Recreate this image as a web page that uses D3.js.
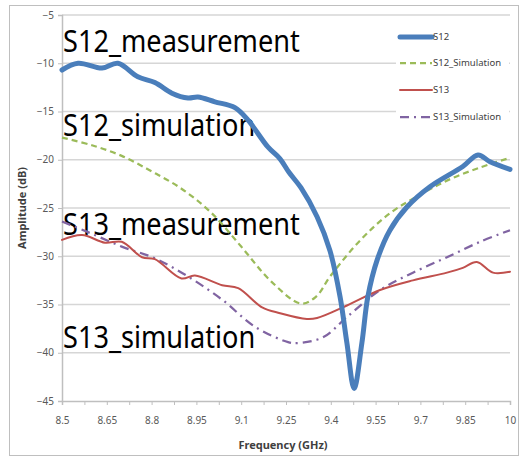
<!DOCTYPE html>
<html>
<head>
<meta charset="utf-8">
<script src="https://cdn.jsdelivr.net/npm/d3@7"></script>
<style>
  body { margin: 0; background: #fff; }
  svg { display: block; font-family: "Noto Sans", sans-serif; }
</style>
</head>
<body>
<script>
"use strict";

// data (GHz, dB)
var s12Freq = [8.5, 8.554, 8.634, 8.687, 8.754, 8.811, 8.868, 8.922, 8.955, 9.012, 9.079, 9.123, 9.19, 9.23, 9.26, 9.30, 9.354, 9.397, 9.431, 9.454, 9.478, 9.504, 9.524, 9.555, 9.598, 9.655, 9.732, 9.842, 9.893, 9.933, 10];
var s12Meas = [-10.7, -10.0, -10.5, -10.0, -11.4, -12.0, -13.1, -13.6, -13.5, -14.0, -14.6, -15.9, -18.7, -19.9, -21.3, -22.9, -25.9, -29.4, -34.2, -39.0, -43.7, -39.0, -34.2, -30.4, -27.3, -24.9, -22.8, -20.7, -19.5, -20.2, -21.0];

var s12SimFreq = [8.5, 8.6, 8.7, 8.8, 8.9, 9.0, 9.1, 9.2, 9.3, 9.35, 9.4, 9.5, 9.6, 9.7, 9.8, 9.9, 10];
var s12Sim = [-17.7, -18.5, -19.6, -21.2, -23.0, -25.5, -29.0, -32.6, -34.9, -34.2, -32.0, -28.3, -25.5, -23.6, -22.0, -20.8, -19.8];

var s13Freq = [8.5, 8.567, 8.644, 8.70, 8.768, 8.811, 8.90, 8.945, 9.036, 9.09, 9.17, 9.23, 9.32, 9.354, 9.454, 9.565, 9.675, 9.789, 9.842, 9.889, 9.943, 10];
var s13Meas = [-28.3, -27.8, -28.6, -28.5, -30.1, -30.3, -32.3, -32.0, -33.0, -33.3, -35.3, -35.9, -36.5, -36.4, -35.1, -33.5, -32.5, -31.7, -31.2, -30.6, -31.7, -31.6];

var s13SimFreq = [8.5, 8.587, 8.70, 8.81, 8.922, 9.036, 9.146, 9.257, 9.287, 9.374, 9.454, 9.565, 9.675, 9.789, 9.9, 10];
var s13Sim = [-26.4, -27.5, -29.0, -30.2, -32.1, -34.5, -37.3, -38.9, -39.0, -38.4, -36.3, -33.5, -31.7, -30.1, -28.5, -27.3];

var xTicks = [8.5, 8.65, 8.8, 8.95, 9.1, 9.25, 9.4, 9.55, 9.7, 9.85, 10];
var yTicks = [-5, -10, -15, -20, -25, -30, -35, -40, -45];

var width = 524;
var height = 458;

var svg = d3.select("body").append("svg")
    .attr("width", width)
    .attr("height", height);

// chart frame
svg.append("rect")
    .attr("x", 9.5).attr("y", 5.5)
    .attr("width", 509).attr("height", 450)
    .attr("fill", "#fff")
    .attr("stroke", "#bfbfbf");

var x = d3.scaleLinear().domain([8.5, 10]).range([62, 510]);
var y = d3.scaleLinear().domain([-45, -5]).range([401, 15]);

// gridlines
svg.append("g").selectAll("line")
    .data(yTicks.filter(function (d) { return d !== -45; }))
    .enter().append("line")
      .attr("x1", x(8.5)).attr("x2", x(10))
      .attr("y1", function (d) { return y(d); })
      .attr("y2", function (d) { return y(d); })
      .attr("stroke", "#d6d6d6")
      .attr("stroke-width", 1.5);

// axes
var yAxis = svg.append("g")
    .attr("transform", "translate(" + x(8.5) + ",0)")
    .call(d3.axisLeft(y).tickValues(yTicks).tickSize(4).tickPadding(4).tickFormat(d3.format("d")));

var minorTicks = d3.range(0, 21).map(function (i) { return 8.5 + i * 0.075; });
var xAxis = svg.append("g")
    .attr("transform", "translate(0," + y(-45) + ")")
    .call(d3.axisBottom(x).tickValues(minorTicks).tickSize(4).tickPadding(12)
        .tickFormat(function (d) {
            var hit = xTicks.find(function (t) { return Math.abs(t - d) < 1e-6; });
            return hit === undefined ? "" : String(hit);
        }));

[yAxis, xAxis].forEach(function (g) {
    g.select(".domain").attr("stroke", "#bfbfbf").attr("stroke-width", 1.5);
    g.selectAll(".tick line").attr("stroke", "#bfbfbf");
    g.selectAll("text")
        .attr("fill", "#595959")
        .style("font-size", "10px")
        .style("font-family", "'Noto Sans', sans-serif");
});

// axis titles
svg.append("text")
    .attr("x", 283).attr("y", 449)
    .attr("text-anchor", "middle")
    .style("font-size", "11px").style("font-weight", "bold")
    .attr("fill", "#404040")
    .text("Frequency (GHz)");

svg.append("text")
    .attr("transform", "translate(26,208) rotate(-90)")
    .attr("text-anchor", "middle")
    .style("font-size", "11px").style("font-weight", "bold")
    .attr("fill", "#404040")
    .text("Amplitude (dB)");

// big annotations (the original font is narrower, so squeeze a bit)
var notes = [
    { t: "S12_measurement", v: -8.8 },
    { t: "S12_simulation", v: -17.5 },
    { t: "S13_measurement", v: -27.8 },
    { t: "S13_simulation", v: -39.5 }
];
svg.append("g").selectAll("text")
    .data(notes)
    .enter().append("text")
      .attr("x", 63)
      .attr("y", function (d) { return y(d.v); })
      .style("font-size", "31px")
      .attr("fill", "#000")
      .text(function (d) { return d.t; })
      .each(function () {
          var len = this.getComputedTextLength();
          d3.select(this)
            .attr("textLength", len * 0.875)
            .attr("lengthAdjust", "spacingAndGlyphs");
      });

// series
var line = d3.line()
    .x(function (d) { return x(d[0]); })
    .y(function (d) { return y(d[1]); })
    .curve(d3.curveCatmullRom.alpha(0.5));

var series = [
    { name: "S12", f: s12Freq, v: s12Meas, color: "#4a7ebb", w: 5, dash: null },
    { name: "S12_Simulation", f: s12SimFreq, v: s12Sim, color: "#9bbb59", w: 2.25, dash: "6,4" },
    { name: "S13", f: s13Freq, v: s13Meas, color: "#c0504d", w: 2, dash: null },
    { name: "S13_Simulation", f: s13SimFreq, v: s13Sim, color: "#8064a2", w: 2.25, dash: "9,5,2,5" }
];

var drawOrder = [series[1], series[3], series[2], series[0]];
svg.append("g").selectAll("path")
    .data(drawOrder)
    .enter().append("path")
      .attr("d", function (s) { return line(d3.zip(s.f, s.v)); })
      .attr("fill", "none")
      .attr("stroke", function (s) { return s.color; })
      .attr("stroke-width", function (s) { return s.w; })
      .attr("stroke-dasharray", function (s) { return s.dash; })
      .attr("stroke-linejoin", "round")
      .attr("stroke-linecap", function (s) { return s.dash ? "butt" : "round"; });

// legend
var legend = svg.append("g");
legend.append("rect")
    .attr("x", 396).attr("y", 24)
    .attr("width", 113).attr("height", 106)
    .attr("fill", "#fff");

var item = legend.selectAll("g.item")
    .data(series)
    .enter().append("g")
      .attr("class", "item")
      .attr("transform", function (d, i) { return "translate(400," + [37, 63, 90, 117][i] + ")"; });

item.append("line")
    .attr("x1", 0).attr("x2", 32)
    .attr("stroke", function (s) { return s.color; })
    .attr("stroke-width", function (s) { return s.w; })
    .attr("stroke-dasharray", function (s) { return s.dash; })
    .attr("stroke-linecap", function (s) { return s.dash ? "butt" : "round"; });

item.append("text")
    .attr("x", 33).attr("dy", "0.35em")
    .style("font-size", "9.5px")
    .attr("fill", "#404040")
    .text(function (s) { return s.name; });
</script>
</body>
</html>
